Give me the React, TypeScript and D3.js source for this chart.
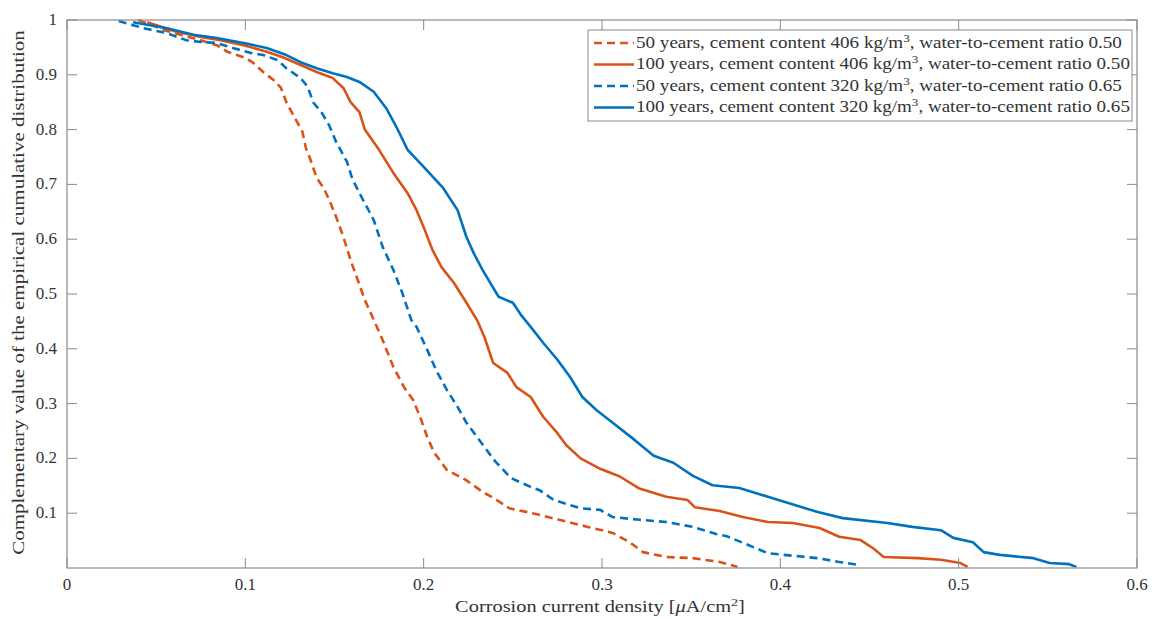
import React, { useLayoutEffect, useRef, useState } from "react";
import * as d3 from "d3";

// ---- data ----
const od50_406_x = [0.040,0.056,0.075,0.084,0.090,0.099,0.104,0.110,0.116,0.120,0.123,0.126,0.129,0.132,0.134,0.136,0.140,0.144,0.147,0.151,0.155,0.159,0.163,0.167,0.172,0.177,0.183,0.189,0.194,0.198,0.202,0.206,0.213,0.224,0.233,0.241,0.248,0.261,0.276,0.292,0.306,0.316,0.323,0.336,0.351,0.366,0.376];
const od50_406_p = [1.0,0.98,0.963,0.954,0.942,0.932,0.923,0.905,0.89,0.876,0.85,0.832,0.814,0.796,0.766,0.75,0.712,0.693,0.672,0.64,0.604,0.562,0.526,0.489,0.453,0.416,0.367,0.33,0.307,0.276,0.239,0.21,0.179,0.16,0.139,0.124,0.109,0.1,0.088,0.075,0.064,0.046,0.029,0.02,0.018,0.011,0.002];

const os100_406_x = [0.045,0.060,0.075,0.086,0.099,0.112,0.121,0.131,0.140,0.149,0.155,0.159,0.164,0.167,0.174,0.183,0.191,0.196,0.200,0.205,0.210,0.217,0.224,0.230,0.234,0.239,0.247,0.252,0.260,0.267,0.275,0.280,0.288,0.299,0.310,0.321,0.336,0.348,0.352,0.366,0.379,0.393,0.407,0.422,0.433,0.445,0.452,0.458,0.477,0.490,0.501,0.505];
const os100_406_p = [0.996,0.98,0.969,0.963,0.954,0.942,0.932,0.918,0.905,0.894,0.876,0.85,0.832,0.8,0.768,0.721,0.684,0.653,0.622,0.58,0.549,0.52,0.484,0.452,0.422,0.374,0.356,0.33,0.312,0.276,0.246,0.224,0.2,0.181,0.167,0.145,0.13,0.124,0.111,0.104,0.093,0.084,0.082,0.073,0.057,0.051,0.036,0.02,0.018,0.015,0.009,0.002];

const bd50_320_x = [0.029,0.043,0.056,0.067,0.075,0.084,0.093,0.103,0.110,0.118,0.123,0.131,0.135,0.138,0.143,0.147,0.151,0.157,0.160,0.164,0.172,0.177,0.183,0.188,0.193,0.196,0.202,0.207,0.213,0.219,0.224,0.232,0.240,0.249,0.260,0.265,0.273,0.288,0.299,0.306,0.321,0.336,0.351,0.364,0.370,0.379,0.393,0.402,0.421,0.433,0.445];
const bd50_320_p = [0.998,0.985,0.976,0.963,0.96,0.958,0.949,0.94,0.936,0.927,0.912,0.894,0.878,0.85,0.83,0.808,0.777,0.741,0.71,0.684,0.635,0.586,0.544,0.502,0.453,0.44,0.398,0.361,0.325,0.294,0.265,0.23,0.195,0.164,0.148,0.142,0.124,0.109,0.106,0.093,0.088,0.084,0.075,0.062,0.058,0.046,0.027,0.024,0.018,0.011,0.005];

const bs100_320_x = [0.037,0.056,0.071,0.084,0.099,0.112,0.123,0.131,0.140,0.149,0.157,0.164,0.172,0.179,0.185,0.191,0.200,0.211,0.219,0.224,0.228,0.233,0.242,0.250,0.255,0.260,0.267,0.275,0.282,0.289,0.297,0.306,0.317,0.323,0.329,0.340,0.351,0.362,0.377,0.393,0.404,0.421,0.435,0.460,0.474,0.490,0.497,0.508,0.514,0.523,0.542,0.551,0.562,0.566];
const bs100_320_p = [0.996,0.985,0.973,0.967,0.958,0.949,0.936,0.923,0.912,0.903,0.896,0.887,0.869,0.839,0.803,0.763,0.732,0.693,0.653,0.604,0.575,0.544,0.495,0.484,0.46,0.44,0.411,0.38,0.349,0.312,0.288,0.265,0.237,0.221,0.205,0.192,0.168,0.151,0.146,0.13,0.119,0.102,0.091,0.082,0.075,0.069,0.055,0.047,0.029,0.024,0.018,0.009,0.007,0.002];

const xTicks = [0, 0.1, 0.2, 0.3, 0.4, 0.5, 0.6];
const yTicks = [0.1, 0.2, 0.3, 0.4, 0.5, 0.6, 0.7, 0.8, 0.9, 1];

const ORANGE = "#D95319";
const BLUE = "#0072BD";

const series = [
  { years: "50", cement: "406", ratio: "0.50", xs: od50_406_x, ps: od50_406_p, color: ORANGE, dashed: true },
  { years: "100", cement: "406", ratio: "0.50", xs: os100_406_x, ps: os100_406_p, color: ORANGE, dashed: false },
  { years: "50", cement: "320", ratio: "0.65", xs: bd50_320_x, ps: bd50_320_p, color: BLUE, dashed: true },
  { years: "100", cement: "320", ratio: "0.65", xs: bs100_320_x, ps: bs100_320_p, color: BLUE, dashed: false },
];

const W = 1158, H = 619;
const L = 67, R = 1137, T = 20, B = 568;
const FONT = "'Liberation Serif', 'DejaVu Serif', serif";
const AXIS = "#8a8a8a";
const TEXT = "#333";
const TL = 10;

// text that is stretched horizontally to a target width (mimics the wide LaTeX font)
function FitText(props: { x: number; y: number; width: number; anchor?: "start" | "middle" | "end"; fontSize: number; children: any }) {
  const ref = useRef<SVGTextElement>(null);
  const [s, setS] = useState(1);
  useLayoutEffect(() => {
    if (ref.current) {
      const w = ref.current.getBBox().width;
      if (w > 0) setS(props.width / w);
    }
  }, [props.width]);
  const ax = props.x;
  return (
    <text ref={ref} x={props.x} y={props.y} textAnchor={props.anchor || "start"} fontSize={props.fontSize} fill={TEXT}
      style={{ fontFamily: FONT }}
      transform={`translate(${ax},0) scale(${s},1) translate(${-ax},0)`}>
      {props.children}
    </text>
  );
}

export default function App() {
  const x = d3.scaleLinear().domain([0, 0.6]).range([L, R]);
  const y = d3.scaleLinear().domain([0, 1]).range([B, T]);
  const line = d3.line<[number, number]>().x(d => x(d[0])).y(d => y(d[1]));

  const legX = 588, legY = 30, legW = 544, legH = 91;
  const rowH = 21.5;

  return (
    <svg width={W} height={H} style={{ position: "absolute", left: 0, top: 0, background: "#fff", fontFamily: FONT }}>
      <rect x={0} y={0} width={W} height={H} fill="#fff" />
      {/* curves */}
      <g fill="none" strokeWidth={2.6} strokeLinejoin="round">
        {series.map((s, i) => (
          <path key={i} d={line(s.xs.map((v, j) => [v, s.ps[j]] as [number, number])) || ""}
            stroke={s.color} strokeDasharray={s.dashed ? "8,5" : undefined} />
        ))}
      </g>
      {/* axes box */}
      <rect x={L} y={T} width={R - L} height={B - T} fill="none" stroke={AXIS} strokeWidth={1.2} />
      {xTicks.map((t, i) => (
        <g key={"xt" + i}>
          <line x1={x(t)} x2={x(t)} y1={B} y2={B - TL} stroke={AXIS} strokeWidth={1} />
          <line x1={x(t)} x2={x(t)} y1={T} y2={T + TL} stroke={AXIS} strokeWidth={1} />
          <text x={x(t)} y={590} textAnchor="middle" fontSize={17} fill={TEXT} style={{ fontFamily: FONT }}>{String(t)}</text>
        </g>
      ))}
      {yTicks.map((t, i) => (
        <g key={"yt" + i}>
          <line x1={L} x2={L + TL} y1={y(t)} y2={y(t)} stroke={AXIS} strokeWidth={1} />
          <line x1={R} x2={R - TL} y1={y(t)} y2={y(t)} stroke={AXIS} strokeWidth={1} />
          <text x={57} y={y(t) + 5} textAnchor="end" fontSize={17} fill={TEXT} style={{ fontFamily: FONT }}>{String(t)}</text>
        </g>
      ))}
      {/* axis labels */}
      <FitText x={600} y={612} anchor="middle" width={290} fontSize={16}>
        Corrosion current density [<tspan fontStyle="italic">μ</tspan>A/cm<tspan fontSize={11} dy={-6}>2</tspan><tspan dy={6}>]</tspan>
      </FitText>
      <g transform={`translate(24, ${(30 + 555) / 2}) rotate(-90)`}>
        <FitText x={0} y={0} anchor="middle" width={525} fontSize={16}>
          Complementary value of the empirical cumulative distribution
        </FitText>
      </g>
      {/* legend */}
      <rect x={legX} y={legY} width={legW} height={legH} fill="#fff" stroke={AXIS} strokeWidth={1} />
      {series.map((s, i) => {
        const cy = legY + 13 + i * rowH;
        return (
          <g key={"lg" + i}>
            <line x1={legX + 6} x2={legX + 46} y1={cy} y2={cy} stroke={s.color} strokeWidth={2.6}
              strokeDasharray={s.dashed ? "8,5" : undefined} />
            <FitText x={legX + 48} y={cy + 5} width={s.years === "100" ? 494 : 486} fontSize={16}>
              {`${s.years} years, cement content ${s.cement} kg/m`}
              <tspan fontSize={11} dy={-6}>3</tspan>
              <tspan dy={6}>{`, water-to-cement ratio ${s.ratio}`}</tspan>
            </FitText>
          </g>
        );
      })}
    </svg>
  );
}
